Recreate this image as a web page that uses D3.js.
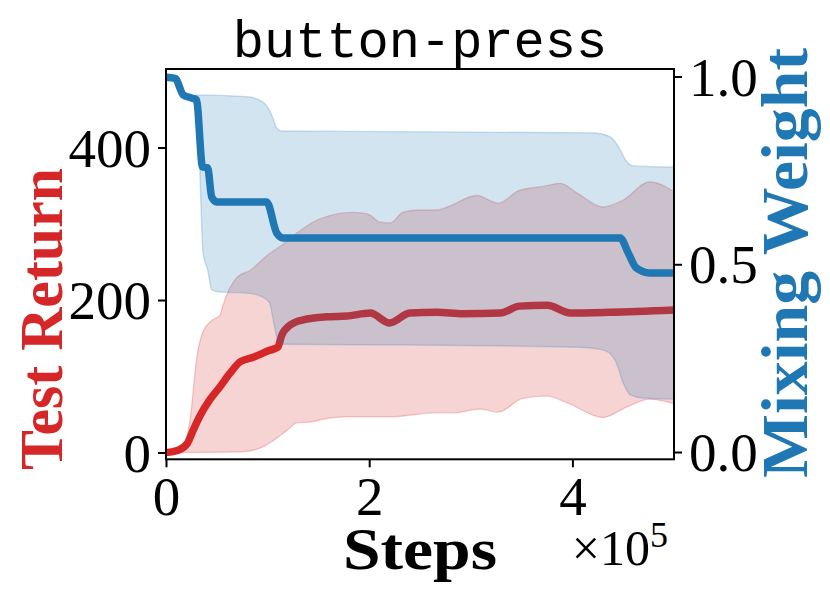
<!DOCTYPE html>
<html><head><meta charset="utf-8">
<script src="https://cdn.jsdelivr.net/npm/d3@7"></script>
<style>body{margin:0;background:#fff}</style>
</head><body>
<svg id="chart" width="830" height="599"></svg>
<script>
const title = "button-press";
const xLabel = "Steps";
const yLeftLabel = "Test Return";
const yRightLabel = "Mixing Weight";
const xTicks = [0, 200000, 400000];
const xTickLabels = ["0", "2", "4"];
const yLeftTicks = [0, 200, 400];
const yRightTicks = [0.0, 0.5, 1.0];
const yRightTickLabels = ["0.0", "0.5", "1.0"];

// Test return, [step, value]
const returnMean = [[0,0],[12000,3],[21000,12],[27000,30],[33000,47],[43000,69],[53000,86],[63000,104],[73000,119],[86000,125],[102000,134],[110000,138],[114000,154],[122000,167],[135000,174],[158000,178],[178000,179],[201000,183],[220000,170],[240000,183],[267000,184],[292000,182],[329000,183],[348000,192],[375000,193],[398000,183],[437000,184],[500000,187]];
const returnUpper = [[0,0],[16000,7],[24000,46],[30000,122],[36000,157],[46000,174],[53000,180],[56000,193],[70000,230],[83000,239],[100000,259],[112000,270],[129000,288],[149000,305],[165000,312],[184000,315],[198000,313],[211000,302],[221000,301],[233000,315],[250000,318],[267000,318],[277000,322],[306000,337],[327000,327],[348000,344],[371000,349],[388000,353],[404000,341],[430000,322],[450000,331],[476000,355],[500000,342]];
const returnLower = [[0,0],[27000,0],[76000,1],[93000,6],[106000,16],[119000,29],[129000,39],[142000,40],[159000,45],[178000,47],[224000,47],[240000,49],[267000,52],[283000,52],[309000,57],[327000,53],[351000,71],[375000,74],[395000,65],[430000,46],[454000,60],[476000,70],[500000,64]];

// Mixing weight, [step, value]
const mixMean = [[0,0.998],[9000,0.995],[17000,0.951],[25000,0.943],[30000,0.938],[36000,0.759],[41000,0.757],[45000,0.679],[50000,0.666],[99000,0.666],[109000,0.583],[115000,0.570],[447000,0.570],[455000,0.530],[463000,0.490],[476000,0.477],[500000,0.477]];
const mixUpper = [[0,0.998],[9000,0.995],[17000,0.951],[25000,0.943],[30000,0.951],[80000,0.946],[95000,0.933],[104000,0.898],[109000,0.863],[114000,0.855],[420000,0.850],[437000,0.840],[447000,0.805],[452000,0.779],[460000,0.762],[500000,0.759]];
const mixLower = [[0,0.998],[9000,0.995],[17000,0.951],[25000,0.943],[30000,0.935],[32000,0.86],[34000,0.69],[36500,0.53],[41000,0.485],[45000,0.432],[53000,0.426],[80000,0.423],[95000,0.413],[102000,0.397],[105000,0.359],[109000,0.306],[112000,0.287],[240000,0.285],[405000,0.279],[430000,0.272],[442000,0.245],[450000,0.184],[457000,0.152],[469000,0.144],[500000,0.141]];

const RED = "#d62728", BLUE = "#1f77b4";
const svg = d3.select("#chart");
const L = 166, R = 674, T = 69, B = 459.3;
const x = d3.scaleLinear().domain([0, 500000]).range([L, R]);
const yL = d3.scaleLinear().domain([-8.9, 503]).range([B, T]);
const yR = d3.scaleLinear().domain([-0.0194, 1.02]).range([B, T]);

svg.append("defs").append("clipPath").attr("id","clip")
  .append("rect").attr("x",L).attr("y",T).attr("width",R-L).attr("height",B-T);
const plot = svg.append("g").attr("clip-path","url(#clip)");

function bandPath(upper, lower, ys){
  const ln = d3.line().x(d=>x(d[0])).y(d=>ys(d[1])).curve(d3.curveMonotoneX);
  const up = ln(upper);
  const lo = ln(lower.slice().reverse());
  return up + "L" + lo.slice(1) + "Z";
}
const line = ys => d3.line().x(d=>x(d[0])).y(d=>ys(d[1])).curve(d3.curveMonotoneX);

plot.append("path").attr("d", bandPath(returnUpper, returnLower, yL))
  .attr("fill", RED).attr("fill-opacity",0.2).attr("stroke",RED).attr("stroke-opacity",0.22).attr("stroke-width",1.4);
plot.append("path").attr("d", line(yL)(returnMean))
  .attr("fill","none").attr("stroke",RED).attr("stroke-width",7.5).attr("stroke-linejoin","round");
plot.append("path").attr("d", bandPath(mixUpper, mixLower, yR))
  .attr("fill", BLUE).attr("fill-opacity",0.2).attr("stroke",BLUE).attr("stroke-opacity",0.22).attr("stroke-width",1.4);
plot.append("path").attr("d", line(yR)(mixMean))
  .attr("fill","none").attr("stroke",BLUE).attr("stroke-width",7.5).attr("stroke-linejoin","round");

// frame
svg.append("rect").attr("x",L).attr("y",T).attr("width",R-L).attr("height",B-T)
  .attr("fill","none").attr("stroke","#000").attr("stroke-width",2);

const tickFont = "'Liberation Serif', 'DejaVu Serif', serif";
const axB = svg.append("g").attr("transform",`translate(0,${B})`)
  .call(d3.axisBottom(x).tickValues(xTicks).tickFormat((d,i)=>xTickLabels[i]).tickSize(8).tickPadding(10));
const axL = svg.append("g").attr("transform",`translate(${L},0)`)
  .call(d3.axisLeft(yL).tickValues(yLeftTicks).tickFormat(d3.format("d")).tickSize(8).tickPadding(7));
const axR = svg.append("g").attr("transform",`translate(${R},0)`)
  .call(d3.axisRight(yR).tickValues(yRightTicks).tickFormat((d,i)=>yRightTickLabels[i]).tickSize(8).tickPadding(7));
[axB, axL, axR].forEach(a=>{
  a.select(".domain").remove();
  a.selectAll(".tick line").attr("stroke","#000").attr("stroke-width",2);
  a.selectAll(".tick text").attr("fill","#000").style("font-family",tickFont).style("font-size","55px");
});
axB.selectAll(".tick text").attr("dy",null).attr("transform",null)
  .attr("dominant-baseline","auto").attr("y", 515 - B);
axL.selectAll(".tick text").attr("dy",null).attr("dominant-baseline","central");
axR.selectAll(".tick text").attr("dy",null).attr("dominant-baseline","central");

// title
svg.append("text").attr("x",(L+R)/2).attr("y",57).attr("text-anchor","middle")
  .style("font-family","'Liberation Mono', 'DejaVu Sans Mono', monospace").style("font-size","52px")
  .attr("fill","#000").text(title);

// x label
svg.append("text").attr("x",(L+R)/2).attr("y",569).attr("text-anchor","middle")
  .style("font-family",tickFont).style("font-size","60px").style("font-weight","bold")
  .attr("textLength",154).attr("lengthAdjust","spacingAndGlyphs")
  .attr("fill","#000").text(xLabel);

// offset text
const off = svg.append("text").attr("x",668).attr("y",565).attr("text-anchor","end")
  .style("font-family",tickFont).style("font-size","50px").attr("fill","#000");
off.append("tspan").text("×10");
off.append("tspan").attr("dy",-18).style("font-size","36px").text("5");

// y labels
svg.append("text").attr("transform",`translate(62,319) rotate(-90)`).attr("text-anchor","middle")
  .style("font-family",tickFont).style("font-size","62px").style("font-weight","bold")
  .attr("textLength",302).attr("lengthAdjust","spacingAndGlyphs")
  .attr("fill",RED).text(yLeftLabel);
svg.append("text").attr("transform",`translate(807,263) rotate(-90)`).attr("text-anchor","middle")
  .style("font-family",tickFont).style("font-size","66px").style("font-weight","bold")
  .attr("textLength",430).attr("lengthAdjust","spacingAndGlyphs")
  .attr("fill",BLUE).text(yRightLabel);
</script>
</body></html>
